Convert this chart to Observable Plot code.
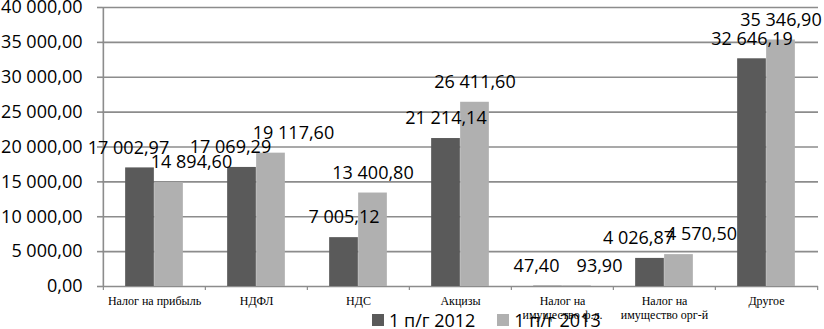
<!DOCTYPE html>
<html>
<head>
<meta charset="utf-8">
<script src="https://cdn.jsdelivr.net/npm/d3@7"></script>
<script src="https://cdn.jsdelivr.net/npm/@observablehq/plot@0.6"></script>
<style>
  html, body { margin: 0; padding: 0; background: #fff; }
  #wrap { position: relative; width: 824px; height: 329px; }
  #legend { position: absolute; left: 372px; top: 308px; display: flex; align-items: center;
            font-family: "Open Sans", sans-serif; font-size: 18px; color: #000; white-space: nowrap; }
  #legend .sw { display: inline-block; width: 12px; height: 12px; margin-right: 5px; }
  #legend .item { display: flex; align-items: center; margin-right: 22px; }
</style>
</head>
<body>
<div id="wrap"><div id="chart"></div><div id="legend"></div></div>
<script>
const categories = ["Налог на прибыль", "НДФЛ", "НДС", "Акцизы", "Налог на\nимущество ф.л.", "Налог на\nимущество орг-й", "Другое"];
const series = ["1 п/г 2012", "1 п/г 2013"];
const values2012 = [17002.97, 17069.29, 7005.12, 21214.14, 47.40, 4026.87, 32646.19];
const values2013 = [14894.60, 19117.60, 13400.80, 26411.60, 93.90, 4570.50, 35346.90];
const yTicks = [0, 5000, 10000, 15000, 20000, 25000, 30000, 35000, 40000];
const colors = ["#5a5a5a", "#b0b0b0"];

const fmt = d3.formatLocale({decimal: ",", thousands: " ", grouping: [3], currency: ["", ""]}).format(",.2f");

const W = 824, H = 329, ml = 102, mr = 6, mt = 7, mb = 43;
const half = (W - ml - mr) / categories.length / 2;
const grid = "#8c8c8c";
const pxPerUnit = (H - mt - mb) / 40000;

const rows = [];
categories.forEach((c, i) => {
  // labels of a pair that would collide vertically are pushed apart sideways
  const near = Math.abs(values2013[i] - values2012[i]) * pxPerUnit < 18;
  rows.push({cat: c, series: series[0], value: values2012[i], near});
  rows.push({cat: c, series: series[1], value: values2013[i], near});
});
const r12 = rows.filter(d => d.series === series[0]);
const r13 = rows.filter(d => d.series === series[1]);

const labelStyle = {fontFamily: "Open Sans, sans-serif", fontSize: 18, fill: "#000", dy: -20};

const chart = Plot.plot({
  width: W, height: H,
  marginLeft: ml, marginRight: mr, marginTop: mt, marginBottom: mb,
  x: {domain: categories, padding: 0, axis: null, label: null},
  y: {domain: [0, 40000], axis: null, label: null},
  marks: [
    Plot.ruleY(yTicks, {stroke: grid, strokeWidth: 1.6, strokeOpacity: 1}),
    Plot.axisY({ticks: yTicks, tickSize: 5, tickPadding: 15, tickFormat: fmt, stroke: grid, strokeWidth: 1.6, label: null,
      fontFamily: "Open Sans, sans-serif", fontSize: 18, fill: "#000"}),
    Plot.ruleX([categories[0]], {y1: 0, y2: 40000, dx: -half, stroke: grid, strokeWidth: 1.6}),
    Plot.axisX({ticks: categories, tickSize: 4, text: null, label: null, dx: -half, stroke: grid, strokeWidth: 1.2}),
    Plot.axisX({ticks: [categories[categories.length - 1]], tickSize: 4, text: null, label: null, dx: half, stroke: grid, strokeWidth: 1.2}),
    Plot.barY(r12, {x: "cat", y: "value", fill: colors[0], insetLeft: half - 29, insetRight: half}),
    Plot.barY(r13, {x: "cat", y: "value", fill: colors[1], insetLeft: half, insetRight: half - 29}),
    Plot.text(r12.filter(d => !d.near), {x: "cat", y: "value", text: d => fmt(d.value), dx: -14.5, ...labelStyle}),
    Plot.text(r12.filter(d => d.near), {x: "cat", y: "value", text: d => fmt(d.value), dx: -26, ...labelStyle}),
    Plot.text(r13.filter(d => !d.near), {x: "cat", y: "value", text: d => fmt(d.value), dx: 14.5, ...labelStyle}),
    Plot.text(r13.filter(d => d.near), {x: "cat", y: "value", text: d => fmt(d.value), dx: 37, ...labelStyle}),
    Plot.axisX({ticks: categories, tickSize: 0, tickPadding: 9, lineHeight: 1.15, label: null,
      fontFamily: "Liberation Serif, Times New Roman, serif", fontSize: 12, fill: "#000"})
  ]
});
document.getElementById("chart").appendChild(chart);

const legend = document.getElementById("legend");
series.forEach((s, i) => {
  const item = document.createElement("div");
  item.className = "item";
  const sw = document.createElement("span");
  sw.className = "sw";
  sw.style.background = colors[i];
  item.appendChild(sw);
  item.appendChild(document.createTextNode(s));
  legend.appendChild(item);
});
</script>
</body>
</html>
